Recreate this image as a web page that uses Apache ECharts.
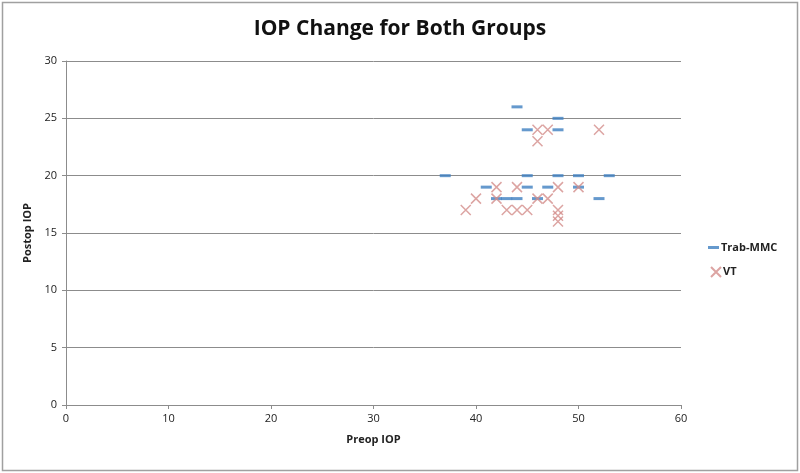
<!DOCTYPE html>
<html>
<head>
<meta charset="utf-8">
<script src="https://cdn.jsdelivr.net/npm/echarts@6/dist/echarts.min.js"></script>
<style>
html,body{margin:0;padding:0;background:#fff;}
#c{width:800px;height:473px;}
</style>
</head>
<body>
<div id="c"></div>
<script>
const titleText = 'IOP Change for Both Groups';
const xName = 'Preop IOP';
const yName = 'Postop IOP';
const seriesNames = ['Trab-MMC', 'VT'];
const trabPreop  = [44, 48, 45, 48, 37, 45, 48, 50, 53, 41, 45, 47, 50, 42, 43, 44, 46, 52];
const trabPostop = [26, 25, 24, 24, 20, 20, 20, 20, 20, 19, 19, 19, 19, 18, 18, 18, 18, 18];
const vtPreop  = [39, 40, 42, 42, 43, 44, 45, 44, 46, 47, 46, 52, 46, 47, 48, 50, 48, 48, 48];
const vtPostop = [17, 18, 19, 18, 17, 17, 17, 19, 24, 24, 23, 24, 18, 18, 19, 19, 17, 16.5, 16];

const trabData = trabPreop.map((x, i) => [x, trabPostop[i]]);
const vtData = vtPreop.map((x, i) => [x, vtPostop[i]]);

const font = '"Open Sans", "Noto Sans", sans-serif';
const xPath = 'path://M0,0L10,10M10,0L0,10';

const chart = echarts.init(document.getElementById('c'), null, {renderer: 'canvas'});
chart.setOption({
  animation: false,
  backgroundColor: '#fff',
  title: {
    text: titleText, left: 'center', top: 14,
    textStyle: {fontFamily: font, fontSize: 21, fontWeight: 'bold', color: '#111'}
  },
  graphic: [{
    type: 'rect', shape: {x: 2.5, y: 2.5, width: 795, height: 468},
    style: {fill: 'none', stroke: '#a0a0a0', lineWidth: 1.5}, silent: true
  }],
  legend: [{
    data: [seriesNames[0]], orient: 'vertical', left: 703, top: 237,
    itemWidth: 11, itemHeight: 3, itemGap: 10,
    textStyle: {fontFamily: font, fontSize: 11, fontWeight: 'bold', color: '#222', padding: [0, 0, 0, -3]}
  }, {
    data: [seriesNames[1]], orient: 'vertical', left: 705, top: 261,
    itemWidth: 10, itemHeight: 10,
    textStyle: {fontFamily: font, fontSize: 11, fontWeight: 'bold', color: '#222', padding: [0, 0, 0, -3]}
  }],
  grid: {left: 66, right: 119, top: 61, bottom: 68},
  xAxis: {
    type: 'value', min: 0, max: 60, interval: 10,
    name: xName, nameLocation: 'middle', nameGap: 29,
    nameTextStyle: {fontFamily: font, fontSize: 11, fontWeight: 'bold', color: '#222'},
    axisLine: {show: true, lineStyle: {color: '#8c8c8c', width: 1}},
    axisTick: {show: true, inside: false, length: 4, lineStyle: {color: '#8c8c8c'}},
    axisLabel: {fontFamily: font, fontSize: 11, color: '#222', margin: 8},
    splitLine: {show: false}
  },
  yAxis: {
    type: 'value', min: 0, max: 30, interval: 5,
    name: yName, nameLocation: 'middle', nameGap: 28, nameRotate: 90,
    nameTextStyle: {fontFamily: font, fontSize: 11, fontWeight: 'bold', color: '#222'},
    axisLine: {show: true, lineStyle: {color: '#8c8c8c', width: 1}},
    axisTick: {show: true, inside: false, length: 4, lineStyle: {color: '#8c8c8c'}},
    axisLabel: {fontFamily: font, fontSize: 11, color: '#222', margin: 9},
    splitLine: {show: true, lineStyle: {color: '#8c8c8c', width: 1}}
  },
  series: [{
    name: seriesNames[0], type: 'scatter', data: trabData,
    symbol: 'rect', symbolSize: [11, 3],
    itemStyle: {color: '#3f7fc0'}, z: 3
  }, {
    name: seriesNames[1], type: 'scatter', data: vtData,
    symbol: xPath, symbolSize: 10, symbolKeepAspect: true,
    itemStyle: {color: 'rgba(0,0,0,0)', borderColor: '#d38d8b', borderWidth: 1.5}, z: 4
  }]
});
</script>
</body>
</html>
